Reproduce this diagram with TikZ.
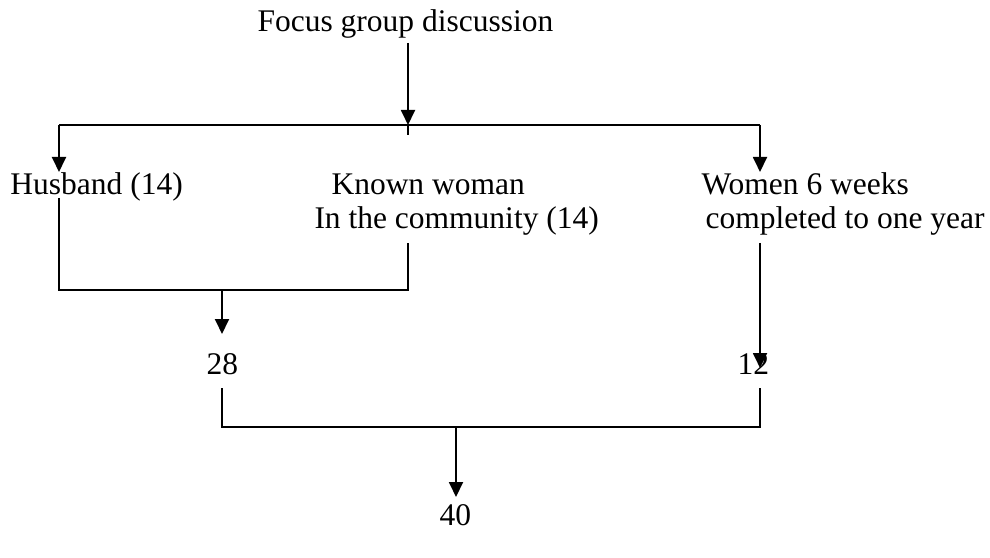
\documentclass[tikz,border=0pt]{standalone}
\usepackage{fontspec}
\setmainfont{Liberation Serif}
\usetikzlibrary{arrows.meta}
\begin{document}
\begin{tikzpicture}[x=0.4pt,y=-0.4pt,
  lbl/.style={inner sep=0pt,anchor=base west,font=\fontsize{12.6}{14}\selectfont},
  conn/.style={line width=0.75pt},
  arr/.style={conn,-{Triangle[width=5.6pt,length=6pt]}}]
\useasboundingbox (0,0) rectangle (990,558);
% labels
\node[lbl] (focus) at (257,32) {Focus group discussion};
\node[lbl] (husband) at (10,195) {Husband (14)};
\node[lbl] (known1) at (331,195) {Known woman};
\node[lbl] (known2) at (314,229) {In the community (14)};
\node[lbl] (women1) at (701,195) {Women 6 weeks};
\node[lbl] (women2) at (705,229) {completed to one year};
\node[lbl] (n28) at (206,374) {28};
\node[lbl] (n12) at (737,374) {12};
\node[lbl] (n40) at (439,525) {40};
% junction coordinates
\coordinate (fBot) at (408,43);
\coordinate (topmid) at (408,125);
\coordinate (stub) at (408,135);
\coordinate (topL) at (59,125);
\coordinate (topR) at (760,125);
\coordinate (hArr) at (59,172);
\coordinate (wArr) at (760,172);
\coordinate (hTop) at (59,198);
\coordinate (brL) at (59,290);
\coordinate (brR) at (408,290);
\coordinate (kTop) at (408,243);
\coordinate (brM) at (222,290);
\coordinate (t28) at (222,334);
\coordinate (wTop) at (760,243);
\coordinate (t12) at (760,368);
\coordinate (b28) at (222,388);
\coordinate (b12) at (760,388);
\coordinate (lowL) at (222,427);
\coordinate (lowR) at (760,427);
\coordinate (lowM) at (456,427);
\coordinate (t40) at (456,497);
% connectors
\draw[arr] (fBot) -- (topmid);
\draw[conn] (topmid) -- (stub);
\draw[conn] (topL) -- (topR);
\draw[arr] (topL) -- (hArr);
\draw[arr] (topR) -- (wArr);
\draw[conn] (hTop) -- (brL) -- (brR) -- (kTop);
\draw[arr] (brM) -- (t28);
\draw[arr] (wTop) -- (t12);
\draw[conn] (b28) -- (lowL) -- (lowR) -- (b12);
\draw[arr] (lowM) -- (t40);
\end{tikzpicture}
\end{document}
